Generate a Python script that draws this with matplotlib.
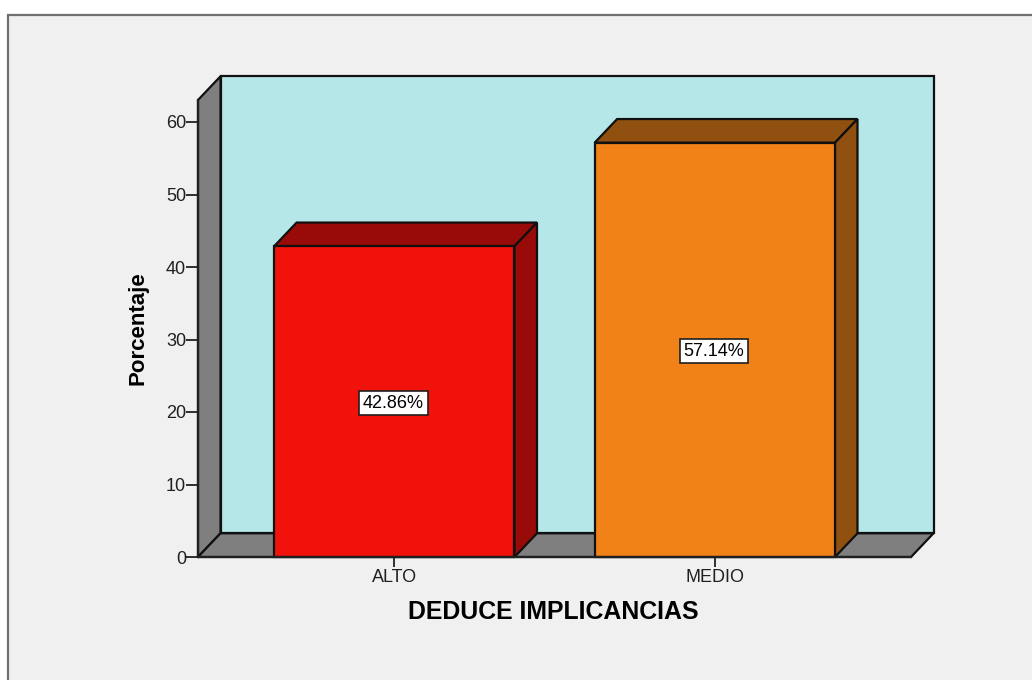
import matplotlib.pyplot as plt
import matplotlib.patches as patches

plt.rcParams['font.family'] = ['Liberation Sans', 'DejaVu Sans']

# datos
categorias = ['ALTO', 'MEDIO']
porcentajes = [42.86, 57.14]
etiquetas = ['42.86%', '57.14%']
ticks_y = [0, 10, 20, 30, 40, 50, 60]

colores = ['#F2120C', '#F08218']
colores_osc = ['#990B08', '#90500F']
gris = '#7F7F7F'
fondo = '#B5E7E8'

W, H = 1032, 680
fig = plt.figure(figsize=(W / 100, H / 100), dpi=100, facecolor='white')

# marco exterior del visor
fig.add_artist(patches.Rectangle((7.5 / W, -0.01), 1.1, 1 - 14.5 / H + 0.01, transform=fig.transFigure,
                                 facecolor='#F0F0F0', edgecolor='#707070', linewidth=1.6, zorder=-1))

# ejes sobre el plano frontal
x0, x1 = 198, 911
y_base, y_top = 557, 100
ax = fig.add_axes([x0 / W, 1 - y_base / H, (x1 - x0) / W, (y_base - y_top) / H])
ax.patch.set_alpha(0)
esc_x = 320.5  # px por categoria
esc_y = 7.25   # px por unidad
ax.set_xlim((x0 - 394.3) / esc_x, (x1 - 394.3) / esc_x)
ax.set_ylim(0, (y_base - y_top) / esc_y)

# profundidad 3D en unidades de datos
dx = 22.5 / esc_x
dy = 23.7 / esc_y
xa, xb = ax.get_xlim()
ya, yb = ax.get_ylim()


def poligono(puntos, color, z):
    ax.add_patch(patches.Polygon(puntos, closed=True, facecolor=color, edgecolor='#101010',
                                 linewidth=1.6, joinstyle='miter', clip_on=False, zorder=z))


# paredes
poligono([(xa + dx, ya + dy), (xb + dx, ya + dy), (xb + dx, yb + dy), (xa + dx, yb + dy)], fondo, 1)
poligono([(xa, ya), (xa + dx, ya + dy), (xa + dx, yb + dy), (xa + dx, yb + dy), (xa, yb)], gris, 1.1)
poligono([(xa, ya), (xb, ya), (xb + dx, ya + dy), (xa + dx, ya + dy)], gris, 1.1)

# barras
ancho = 0.75
for i, v in enumerate(porcentajes):
    izq, der = i - ancho / 2, i + ancho / 2
    poligono([(izq, v), (der, v), (der + dx, v + dy), (izq + dx, v + dy)], colores_osc[i], 2)
    poligono([(der, 0), (der + dx, dy), (der + dx, v + dy), (der, v)], colores_osc[i], 2)
    ax.bar(i, v, width=ancho, color=colores[i], edgecolor='#101010', linewidth=1.6, zorder=3, clip_on=False)
    ax.annotate(etiquetas[i], (i, v / 2), xytext=(-0.6, -1), textcoords='offset points',
                ha='center', va='center', fontsize=13, color='black', zorder=4,
                bbox=dict(boxstyle='square,pad=0.2', facecolor='white', edgecolor='#202020', linewidth=1.2))

# ejes
for lado in ['top', 'right']:
    ax.spines[lado].set_visible(False)
for lado in ['left', 'bottom']:
    ax.spines[lado].set_linewidth(1.6)
    ax.spines[lado].set_color('#202020')
    ax.spines[lado].set_zorder(5)
ax.set_yticks(ticks_y)
ax.set_xticks(range(len(categorias)))
ax.set_xticklabels(categorias)
ax.tick_params(axis='y', length=8.5, width=1.3, color='#202020', labelsize=13, pad=0, labelcolor='#202020')
ax.tick_params(axis='x', length=7, width=1.3, color='#202020', labelsize=13, pad=2, labelcolor='#202020')

fig.text(553.5 / W, 1 - 612 / H, 'DEDUCE IMPLICANCIAS', ha='center', va='center',
         fontsize=17.9, fontweight='bold', color='black')
fig.text(137.5 / W, 1 - 328 / H, 'Porcentaje', ha='center', va='center', rotation=90,
         fontsize=16, fontweight='bold', color='black')

fig.savefig('out.png', dpi=100, facecolor='white')
